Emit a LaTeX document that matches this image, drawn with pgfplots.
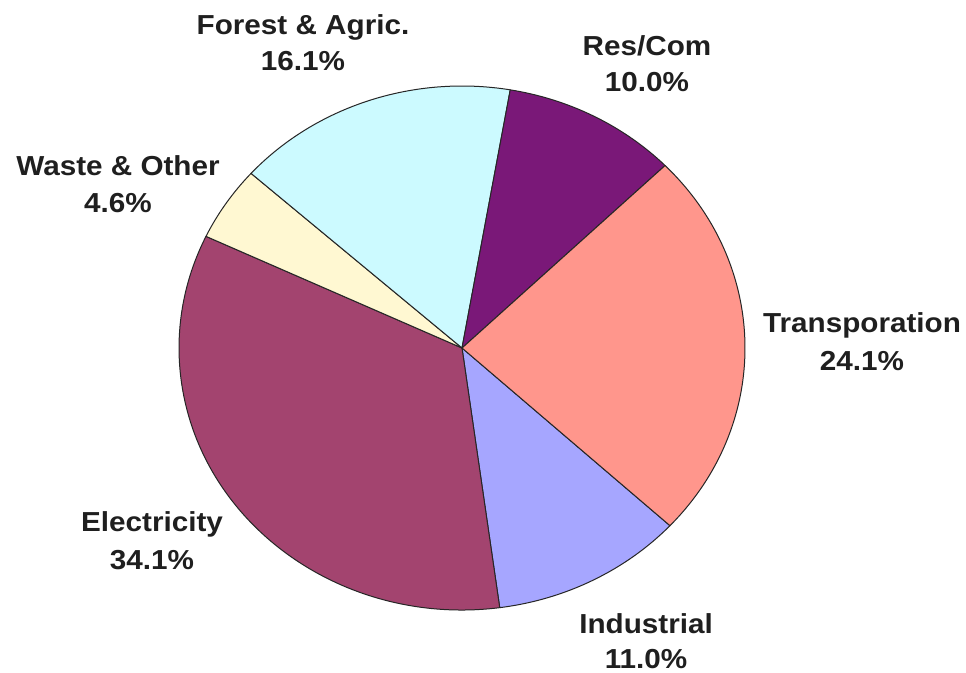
\documentclass[border=0pt]{standalone}
\usepackage{fontspec}
\usepackage{pgfplots}
\usepackage{pgfplotstable}
\pgfplotsset{compat=1.18}
\newfontfamily\labfont{Liberation Sans}[FakeStretch=1.08]

% slice colours (clockwise from the lower right)
\definecolor{cInd}{HTML}{A6A6FF}
\definecolor{cEle}{HTML}{A3446F}
\definecolor{cWas}{HTML}{FFF8D2}
\definecolor{cFor}{HTML}{CCFAFF}
\definecolor{cRes}{HTML}{7A1878}
\definecolor{cTra}{HTML}{FF968C}

\pgfplotstableread{
label value
Industrial 11.0
Electricity 34.1
Waste 4.6
Forest 16.1
ResCom 10.0
Transport 24.1
}\piedata

\newcommand\getv[2]{\pgfplotstablegetelem{#1}{value}\of\piedata\let#2\pgfplotsretval}
\newcommand\pct[1]{\pgfmathprintnumber[fixed,fixed zerofill,precision=1,assume math mode=true]{#1}\%}

\tikzset{
  lab/.style={font=\labfont\bfseries\fontsize{20.6pt}{24pt}\selectfont,
    text=black!88, anchor=base, inner sep=0pt},
  wedge/.style={draw=black!85, line width=0.75pt, line join=round},
}

\begin{document}
\begin{tikzpicture}
\useasboundingbox[fill=white] (0,0) rectangle (724.5pt,504pt);

\getv{0}\vA \getv{1}\vB \getv{2}\vC \getv{3}\vD \getv{4}\vE \getv{5}\vF
\pgfmathsetmacro\tot{\vA+\vB+\vC+\vD+\vE+\vF}
\pgfmathsetmacro\aA{-42.7}
\pgfmathsetmacro\aB{\aA-360*\vA/\tot}
\pgfmathsetmacro\aC{\aB-360*\vB/\tot}
\pgfmathsetmacro\aD{\aC-360*\vC/\tot}
\pgfmathsetmacro\aE{\aD-360*\vD/\tot}
\pgfmathsetmacro\aF{\aE-360*\vE/\tot}
\pgfmathsetmacro\aG{\aF-360*\vF/\tot}

\begin{axis}[
    at={(346.5pt,243pt)}, anchor=origin,
    x=212.25pt, y=196.5pt,
    xmin=-1.6, xmax=1.7,
    ymin=-1.2, ymax=1.2,
    hide axis,
    clip=false,
]
\newcommand\slice[3]{%
  \filldraw[wedge, fill=#3] (axis cs:0,0) -- (axis cs:{cos(#1)},{sin(#1)})
    arc[start angle=#1, end angle=#2, x radius=212.25pt, y radius=196.5pt] -- cycle;}

\slice{\aA}{\aB}{cInd}
\slice{\aB}{\aC}{cEle}
\slice{\aC}{\aD}{cWas}
\slice{\aD}{\aE}{cFor}
\slice{\aE}{\aF}{cRes}
\slice{\aF}{\aG}{cTra}

\node[lab] at (axis cs:0.6502,-1.0878) {Industrial};
\node[lab] at (axis cs:0.6502,-1.2214) {\pct{\vA}};
\node[lab] at (axis cs:-1.0954,-0.6985) {Electricity};
\node[lab] at (axis cs:-1.0954,-0.8435) {\pct{\vB}};
\node[lab] at (axis cs:-1.2155,0.6565) {Waste \& Other};
\node[lab] at (axis cs:-1.2155,0.5153) {\pct{\vC}};
\node[lab] at (axis cs:-0.5618,1.1947) {Forest \& Agric.};
\node[lab] at (axis cs:-0.5618,1.0573) {\pct{\vD}};
\node[lab] at (axis cs:0.6537,1.1183) {Res/Com};
\node[lab] at (axis cs:0.6537,0.9771) {\pct{\vE}};
\node[lab] at (axis cs:1.4134,0.0573) {Transporation};
\node[lab] at (axis cs:1.4134,-0.0840) {\pct{\vF}};
\end{axis}
\end{tikzpicture}
\end{document}
